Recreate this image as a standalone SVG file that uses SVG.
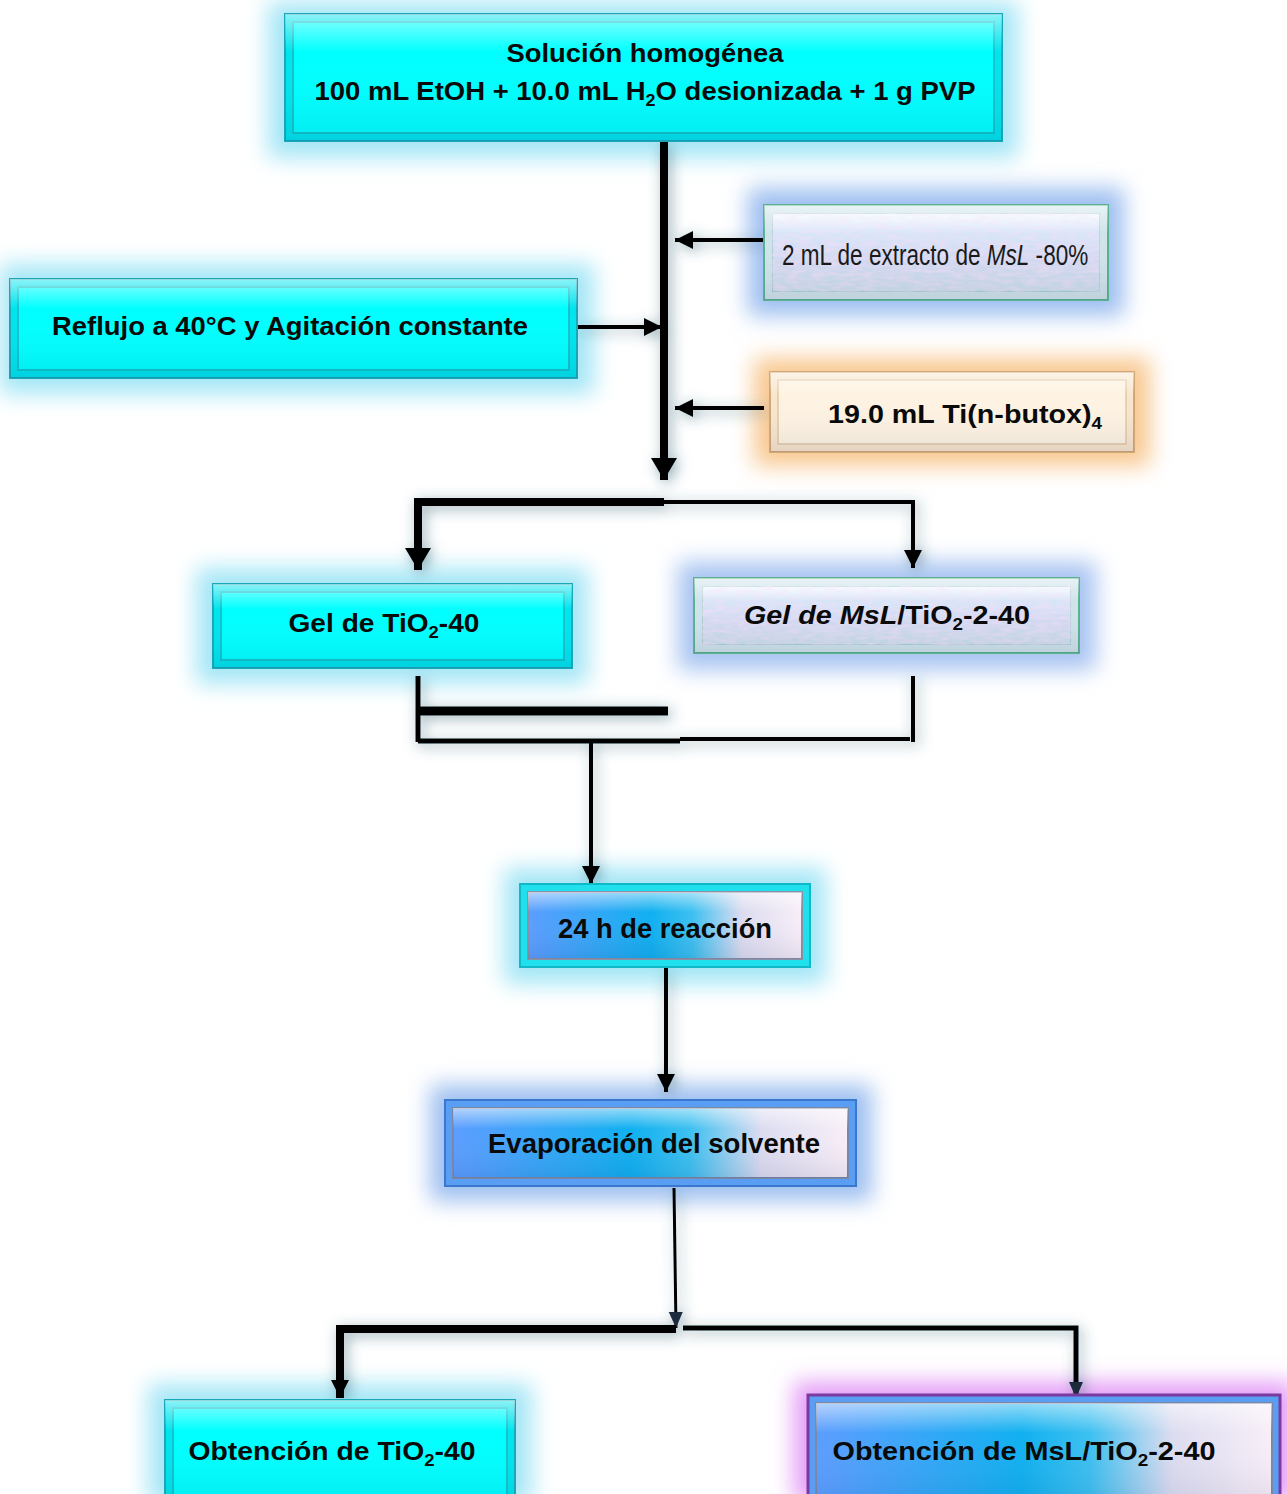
<svg xmlns="http://www.w3.org/2000/svg" width="1287" height="1494" viewBox="0 0 1287 1494">
<style>
  .t { font-family: "Liberation Sans", "DejaVu Sans", sans-serif; font-weight: bold; fill: #0a0a0a; }
  .thin { font-family: "Liberation Sans", "DejaVu Sans", sans-serif; font-weight: normal; fill: #1a1a1a; }
  .cy-out { fill: #00e4ee; stroke: #1aa8b8; stroke-width: 2; }
  .cy-in { fill: #00ffff; stroke: #10c4cc; stroke-width: 2; }
  .ln { fill: none; stroke: #000; stroke-linejoin: miter; }
</style>
<defs>
  <filter id="glow" x="-30%" y="-60%" width="160%" height="220%">
    <feGaussianBlur stdDeviation="11"/>
  </filter>
  <filter id="shadow" x="-10%" y="-10%" width="120%" height="120%">
    <feGaussianBlur in="SourceAlpha" stdDeviation="7" result="b"/>
    <feOffset in="b" dx="3" dy="3" result="o"/>
    <feFlood flood-color="#2f6070" flood-opacity="0.55"/>
    <feComposite in2="o" operator="in" result="s"/>
    <feMerge><feMergeNode in="s"/><feMergeNode in="SourceGraphic"/></feMerge>
  </filter>
  <filter id="tex" x="0" y="0" width="100%" height="100%">
    <feTurbulence type="fractalNoise" baseFrequency="0.08 0.3" numOctaves="2" seed="3" result="n"/>
    <feColorMatrix in="n" type="matrix" values="0 0 0 0 0.88  0 0 0 0 0.74  0 0 0 0 0.95  0 0 0 1.2 -0.35" result="c"/>
    <feComposite in="c" in2="SourceGraphic" operator="in" result="cc"/>
    <feMerge><feMergeNode in="SourceGraphic"/><feMergeNode in="cc"/></feMerge>
  </filter>
  <linearGradient id="pastel" x1="0" y1="0" x2="0" y2="1">
    <stop offset="0" stop-color="#f4fbff"/>
    <stop offset="0.25" stop-color="#d6e6f8"/>
    <stop offset="0.6" stop-color="#d2daf2"/>
    <stop offset="1" stop-color="#c8e0ea"/>
  </linearGradient>
  <linearGradient id="blueg" x1="0" y1="0" x2="1" y2="0">
    <stop offset="0" stop-color="#5c9dff"/>
    <stop offset="0.45" stop-color="#10b0f0"/>
    <stop offset="0.6" stop-color="#3cc0f0"/>
    <stop offset="0.78" stop-color="#dcdcf0"/>
    <stop offset="1" stop-color="#f8eef8"/>
  </linearGradient>
  <linearGradient id="hilite" x1="0" y1="0" x2="0" y2="1">
    <stop offset="0" stop-color="#ffffff" stop-opacity="0.55"/>
    <stop offset="0.3" stop-color="#ffffff" stop-opacity="0"/>
    <stop offset="1" stop-color="#000040" stop-opacity="0.08"/>
  </linearGradient>
  <marker id="ab" markerUnits="userSpaceOnUse" markerWidth="24" markerHeight="26" refX="22" refY="13" orient="auto">
    <path d="M0,0 L22,13 L0,26 z" fill="#000"/>
  </marker>
  <marker id="am" markerUnits="userSpaceOnUse" markerWidth="20" markerHeight="20" refX="18" refY="9" orient="auto">
    <path d="M0,0 L18,9 L0,18 z" fill="#000"/>
  </marker>
  <marker id="as" markerUnits="userSpaceOnUse" markerWidth="16" markerHeight="16" refX="16" refY="7" orient="auto">
    <path d="M0,0 L16,7 L0,14 z" fill="#1a2a3a"/>
  </marker>
</defs>

<rect width="1287" height="1494" fill="#ffffff"/>

<!-- glows -->
<g id="glows" filter="url(#glow)">
  <rect x="268" y="2" width="750" height="156" fill="#a4e6f6"/>
  <rect x="0" y="264" width="594" height="130" fill="#a4e6f6"/>
  <rect x="748" y="188" width="376" height="128" fill="#9ebff0"/>
  <rect x="754" y="358" width="396" height="108" fill="#f8c890"/>
  <rect x="196" y="568" width="392" height="116" fill="#a4e6f6"/>
  <rect x="678" y="562" width="418" height="108" fill="#a8c4f2"/>
  <rect x="504" y="868" width="322" height="116" fill="#a4e6f6"/>
  <rect x="430" y="1085" width="442" height="116" fill="#9ebff0"/>
  <rect x="148" y="1384" width="384" height="120" fill="#a4e6f6"/>
  <rect x="794" y="1382" width="500" height="120" fill="#e49cf6"/>
</g>

<!-- connectors -->
<g id="connectors" filter="url(#shadow)">
  <line class="ln" x1="664" y1="141" x2="664" y2="480" stroke-width="8" marker-end="url(#ab)"/>
  <line class="ln" x1="764" y1="240" x2="675" y2="240" stroke-width="4" marker-end="url(#am)"/>
  <line class="ln" x1="577" y1="327" x2="662" y2="327" stroke-width="4" marker-end="url(#am)"/>
  <line class="ln" x1="764" y1="408" x2="675" y2="408" stroke-width="4" marker-end="url(#am)"/>
  <path class="ln" d="M664,502 H418 V570" stroke-width="8" marker-end="url(#ab)"/>
  <path class="ln" d="M664,502 H913 V568" stroke-width="4" marker-end="url(#am)"/>
  <path class="ln" d="M418,676 V742" stroke-width="5"/>
  <path class="ln" d="M418,711 H668" stroke-width="9"/>
  <path class="ln" d="M418,741 H680" stroke-width="5"/>
  <path class="ln" d="M680,739 H910" stroke-width="4"/>
  <path class="ln" d="M913,676 V742" stroke-width="4"/>
  <line class="ln" x1="591" y1="742" x2="591" y2="884" stroke-width="4" marker-end="url(#am)"/>
  <line class="ln" x1="666" y1="967" x2="666" y2="1092" stroke-width="4" marker-end="url(#am)"/>
  <line class="ln" x1="674" y1="1188" x2="676" y2="1328" stroke-width="3" stroke="#1a2a3a" marker-end="url(#as)"/>
  <path class="ln" d="M676,1329 H340 V1398" stroke-width="8" marker-end="url(#am)"/>
  <path class="ln" d="M683,1328 H1076 V1398" stroke-width="5" marker-end="url(#as)"/>
</g>

<!-- nodes -->
<g id="n-solucion">
  <rect class="cy-out" x="285" y="14" width="717" height="127"/>
  <rect class="cy-in" x="293" y="22" width="701" height="111"/>
  <rect x="285" y="14" width="717" height="127" fill="url(#hilite)"/>
  <text class="t" x="645" y="62" font-size="26" text-anchor="middle" textLength="277" lengthAdjust="spacingAndGlyphs">Solución  homogénea</text>
  <text class="t" x="645" y="100" font-size="26" text-anchor="middle" textLength="661" lengthAdjust="spacingAndGlyphs">100 mL EtOH + 10.0 mL H<tspan font-size="17" dy="6">2</tspan><tspan dy="-6">O desionizada + 1 g PVP</tspan></text>
</g>

<g id="n-reflujo">
  <rect class="cy-out" x="10" y="279" width="567" height="99"/>
  <rect class="cy-in" x="18" y="287" width="551" height="83"/>
  <rect x="10" y="279" width="567" height="99" fill="url(#hilite)"/>
  <text class="t" x="290" y="335" font-size="26" text-anchor="middle" textLength="476" lengthAdjust="spacingAndGlyphs">Reflujo a 40°C y Agitación constante</text>
</g>

<g id="n-extracto">
  <rect x="764" y="205" width="344" height="95" fill="#cfe4ea" stroke="#5ab090" stroke-width="2"/>
  <rect x="772" y="213" width="328" height="79" fill="url(#pastel)" stroke="#9cc8c8" stroke-width="1.5" filter="url(#tex)"/>
  <rect x="764" y="205" width="344" height="95" fill="url(#hilite)"/>
  <g transform="translate(782,265) scale(0.752,1)">
    <text class="thin" x="0" y="0" font-size="30">2 mL de extracto de <tspan font-style="italic">MsL</tspan> -80%</text>
  </g>
</g>

<g id="n-butox">
  <rect x="770" y="372" width="364" height="80" fill="#f8e6cc" stroke="#d0a878" stroke-width="2"/>
  <rect x="778" y="380" width="348" height="64" fill="#fef3e2" stroke="#e2c8a4" stroke-width="1.5"/>
  <rect x="770" y="372" width="364" height="80" fill="url(#hilite)"/>
  <text class="t" x="965" y="423" font-size="26" text-anchor="middle" textLength="274" lengthAdjust="spacingAndGlyphs">19.0 mL  Ti(n-butox)<tspan font-size="17" dy="6">4</tspan></text>
</g>

<g id="n-gel-tio2">
  <rect class="cy-out" x="213" y="584" width="359" height="84"/>
  <rect class="cy-in" x="221" y="592" width="343" height="68"/>
  <rect x="213" y="584" width="359" height="84" fill="url(#hilite)"/>
  <text class="t" x="384" y="632" font-size="26" text-anchor="middle" textLength="191" lengthAdjust="spacingAndGlyphs">Gel de TiO<tspan font-size="17" dy="6">2</tspan><tspan dy="-6">-40</tspan></text>
</g>

<g id="n-gel-msl">
  <rect x="694" y="578" width="385" height="75" fill="#cfe4ea" stroke="#5ab090" stroke-width="2"/>
  <rect x="702" y="586" width="369" height="59" fill="url(#pastel)" stroke="#9cc8c8" stroke-width="1.5" filter="url(#tex)"/>
  <rect x="694" y="578" width="385" height="75" fill="url(#hilite)"/>
  <text class="t" x="887" y="624" font-size="26" text-anchor="middle" textLength="286" lengthAdjust="spacingAndGlyphs"><tspan font-style="italic">Gel de MsL</tspan>/TiO<tspan font-size="17" dy="6">2</tspan><tspan dy="-6">-2-40</tspan></text>
</g>

<g id="n-reaccion">
  <rect x="520" y="884" width="290" height="83" fill="#20e0ee" stroke="#10b8c8" stroke-width="2"/>
  <rect x="528" y="892" width="274" height="67" fill="url(#blueg)" stroke="#8a90a8" stroke-width="2"/>
  <rect x="528" y="892" width="274" height="67" fill="url(#hilite)"/>
  <text class="t" x="665" y="938" font-size="27" text-anchor="middle" textLength="214" lengthAdjust="spacingAndGlyphs">24 h de reacción</text>
</g>

<g id="n-evaporacion">
  <rect x="445" y="1100" width="411" height="86" fill="#5a9ef4" stroke="#3a78d0" stroke-width="2"/>
  <rect x="453" y="1108" width="395" height="70" fill="url(#blueg)" stroke="#7a88a8" stroke-width="2"/>
  <rect x="453" y="1108" width="395" height="70" fill="url(#hilite)"/>
  <text class="t" x="654" y="1153" font-size="27" text-anchor="middle" textLength="332" lengthAdjust="spacingAndGlyphs">Evaporación  del solvente</text>
</g>

<g id="n-obt-tio2">
  <rect class="cy-out" x="165" y="1400" width="350" height="104"/>
  <rect class="cy-in" x="173" y="1408" width="334" height="96"/>
  <rect x="165" y="1400" width="350" height="104" fill="url(#hilite)"/>
  <text class="t" x="332" y="1460" font-size="26" text-anchor="middle" textLength="287" lengthAdjust="spacingAndGlyphs">Obtención de TiO<tspan font-size="17" dy="6">2</tspan><tspan dy="-6">-40</tspan></text>
</g>

<g id="n-obt-msl">
  <rect x="808" y="1395" width="472" height="109" fill="#5a9ef4" stroke="#7a3aa0" stroke-width="3"/>
  <rect x="816" y="1403" width="456" height="101" fill="url(#blueg)" stroke="#7a88a8" stroke-width="2"/>
  <rect x="816" y="1403" width="456" height="101" fill="url(#hilite)"/>
  <text class="t" x="1024" y="1460" font-size="26" text-anchor="middle" textLength="383" lengthAdjust="spacingAndGlyphs">Obtención de MsL/TiO<tspan font-size="17" dy="6">2</tspan><tspan dy="-6">-2-40</tspan></text>
</g>
</svg>
